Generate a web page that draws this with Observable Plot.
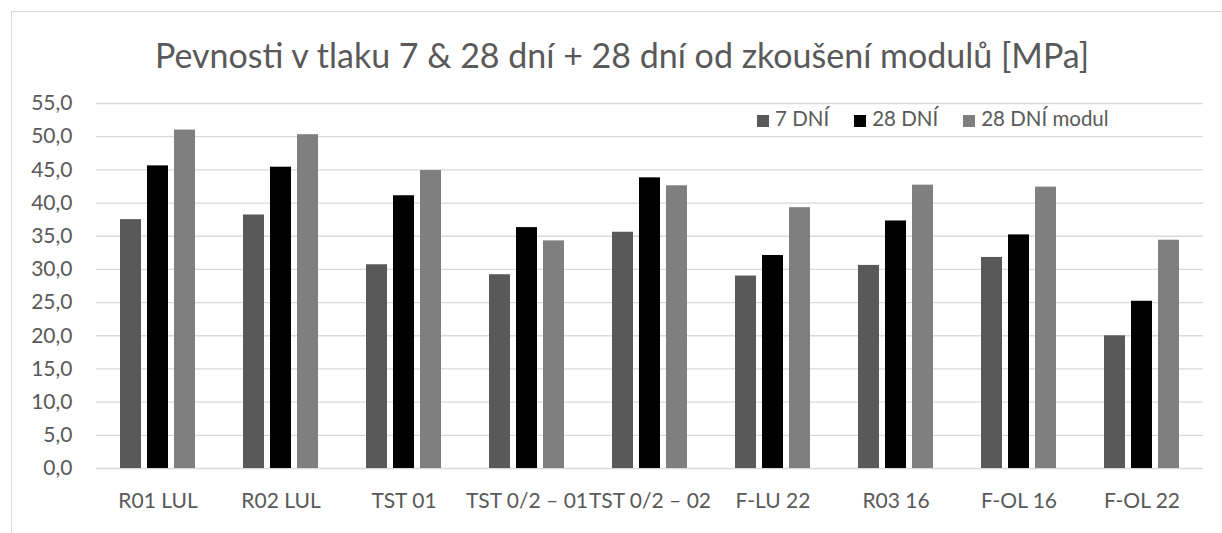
<!DOCTYPE html>
<html>
<head>
<meta charset="utf-8">
<script src="https://cdn.jsdelivr.net/npm/d3@7"></script>
<script src="https://cdn.jsdelivr.net/npm/@observablehq/plot@0.6"></script>
<style>
  html, body { margin: 0; padding: 0; background: #ffffff; }
  body { width: 1222px; height: 533px; position: relative; overflow: hidden; font-family: Lato, "Open Sans", sans-serif; color: #595959; }
  #frame { position: absolute; left: 11px; top: 11px; width: 1240px; height: 560px; border: 1.5px solid #d9d9d9; box-sizing: border-box; }
  #title { position: absolute; left: 12px; width: 1220px; top: 38px; text-align: center; font-size: 34px; line-height: 34px; color: #595959; white-space: nowrap; }
  #chart { position: absolute; left: 0; top: 85px; }
  #legend { position: absolute; left: 757px; top: 108px; display: flex; align-items: center; font-size: 20.5px; line-height: 21px; color: #595959; white-space: nowrap; }
  #legend .item { display: flex; align-items: center; margin-right: 25px; }
  #legend .sw { width: 12px; height: 12px; margin-right: 6px; position: relative; top: 2px; }
</style>
</head>
<body>
<div id="frame"></div>
<div id="title">Pevnosti v tlaku 7 &amp; 28 dní + 28 dní od zkoušení modulů [MPa]</div>
<div id="chart"></div>
<div id="legend"></div>
<script>
const categories = ["R01 LUL", "R02 LUL", "TST 01", "TST 0/2 – 01", "TST 0/2 – 02", "F-LU 22", "R03 16", "F-OL 16", "F-OL 22"];
const series = ["7 DNÍ", "28 DNÍ", "28 DNÍ modul"];
const values7 = [37.5, 38.2, 30.7, 29.2, 35.6, 29.0, 30.6, 31.8, 20.0];
const values28 = [45.6, 45.4, 41.1, 36.3, 43.8, 32.1, 37.3, 35.2, 25.2];
const valuesModul = [51.0, 50.3, 44.9, 34.3, 42.6, 39.3, 42.7, 42.4, 34.4];
const colors = ["#595959", "#000000", "#7f7f7f"];
const yTicks = [0, 5, 10, 15, 20, 25, 30, 35, 40, 45, 50, 55];

const seriesValues = [values7, values28, valuesModul];
const data = [];
categories.forEach((c, i) => {
  series.forEach((s, j) => {
    data.push({category: c, series: s, value: seriesValues[j][i]});
  });
});

const chart = Plot.plot({
  width: 1222,
  height: 448,
  marginTop: 18,
  marginBottom: 65,
  marginLeft: 94,
  marginRight: 17,
  style: {fontFamily: "Lato, 'Open Sans', sans-serif", fontSize: "21px", color: "#595959", background: "transparent", overflow: "visible"},
  fx: {domain: categories, padding: 0, label: null, axis: "bottom", tickSize: 0, tickPadding: 25},
  x: {domain: series, paddingInner: 0.22, paddingOuter: 0.85, axis: null},
  y: {domain: [0, 55], ticks: yTicks, tickFormat: d => d.toFixed(1).replace(".", ","), label: null, tickSize: 0, tickPadding: 24},
  color: {domain: series, range: colors},
  marks: [
    Plot.gridY(yTicks, {stroke: "#d9d9d9", strokeOpacity: 1, strokeWidth: 1.3}),
    Plot.barY(data, {fx: "category", x: "series", y: "value", fill: "series"})
  ]
});
document.getElementById("chart").appendChild(chart);

const legend = document.getElementById("legend");
series.forEach((s, i) => {
  const item = document.createElement("div");
  item.className = "item";
  const sw = document.createElement("span");
  sw.className = "sw";
  sw.style.background = colors[i];
  const t = document.createElement("span");
  t.textContent = s;
  item.appendChild(sw);
  item.appendChild(t);
  legend.appendChild(item);
});
</script>
</body>
</html>
